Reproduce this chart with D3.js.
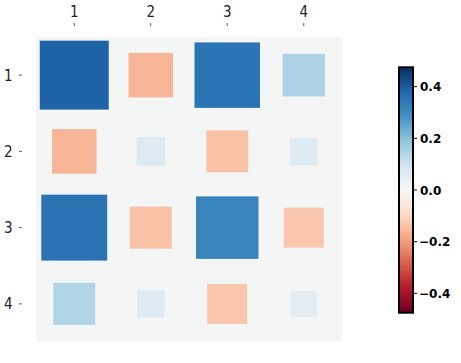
<!DOCTYPE html>
<html>
<head>
<meta charset="utf-8">
<script src="https://cdn.jsdelivr.net/npm/d3@7"></script>
<style>
  body { margin: 0; background: #fff; }
  .lbl { font-family: "Liberation Sans Narrow", "DejaVu Sans Condensed", "Liberation Sans", sans-serif; font-size: 15px; font-weight: 300; fill: #222; }
  .cb { font-family: "DejaVu Sans", sans-serif; font-size: 12px; font-weight: bold; fill: #000; }
</style>
</head>
<body>
<svg id="svg-container" width="461" height="363"></svg>
<script>
const rows = ['1', '2', '3', '4']
const cols = ['1', '2', '3', '4']
const values = [
  [0.386, -0.161, 0.348, 0.147],
  [-0.161, 0.066, -0.143, 0.061],
  [0.353, -0.143, 0.317, -0.130],
  [0.143, 0.061, -0.130, 0.055],
]
const vmax = 0.475
const cbTicks = [-0.4, -0.2, 0, 0.2, 0.4]
// matplotlib RdBu anchors
const rdbu = ['#67001f', '#b2182b', '#d6604d', '#f4a582', '#fddbc7', '#f7f7f7',
  '#d1e5f0', '#92c5de', '#4393c3', '#2166ac', '#053061']

const svg = d3.select('#svg-container')

const plot = { x0: 36, x1: 342, y0: 37, y1: 342 }
const x = d3.scaleBand().domain(cols).range([plot.x0, plot.x1])
const y = d3.scaleBand().domain(rows).range([plot.y0, plot.y1])
const size = d3.scaleSqrt().domain([0, vmax]).range([0, x.bandwidth()])
const color = d3.scaleLinear()
  .domain(d3.range(rdbu.length).map(i => -vmax + (2 * vmax * i) / (rdbu.length - 1)))
  .range(rdbu)

svg.append('rect')
  .attr('x', plot.x0)
  .attr('y', plot.y0)
  .attr('width', plot.x1 - plot.x0)
  .attr('height', plot.y1 - plot.y0)
  .attr('fill', '#f4f6f5')

const cells = []
rows.forEach((r, i) => cols.forEach((c, j) => cells.push({ r, c, v: values[i][j] })))

svg.selectAll('rect.cell')
  .data(cells)
  .enter()
  .append('rect')
  .attr('class', 'cell')
  .attr('x', d => x(d.c) + (x.bandwidth() - size(Math.abs(d.v))) / 2)
  .attr('y', d => y(d.r) + (y.bandwidth() - size(Math.abs(d.v))) / 2)
  .attr('width', d => size(Math.abs(d.v)))
  .attr('height', d => size(Math.abs(d.v)))
  .attr('fill', d => color(d.v))

// top axis
const topAxis = svg.append('g')
topAxis.selectAll('line')
  .data(cols)
  .enter()
  .append('line')
  .attr('x1', d => x(d) + x.bandwidth() / 2)
  .attr('x2', d => x(d) + x.bandwidth() / 2)
  .attr('y1', 23)
  .attr('y2', 26)
  .attr('stroke', '#333')
  .attr('stroke-width', 0.8)
topAxis.selectAll('text')
  .data(cols)
  .enter()
  .append('text')
  .attr('class', 'lbl')
  .attr('x', d => x(d) + x.bandwidth() / 2)
  .attr('y', 17)
  .attr('text-anchor', 'middle')
  .text(d => d)

// left axis
const leftAxis = svg.append('g')
leftAxis.selectAll('line')
  .data(rows)
  .enter()
  .append('line')
  .attr('x1', 19)
  .attr('x2', 22)
  .attr('y1', d => y(d) + y.bandwidth() / 2)
  .attr('y2', d => y(d) + y.bandwidth() / 2)
  .attr('stroke', '#333')
  .attr('stroke-width', 0.8)
leftAxis.selectAll('text')
  .data(rows)
  .enter()
  .append('text')
  .attr('class', 'lbl')
  .attr('x', 12.5)
  .attr('y', d => y(d) + y.bandwidth() / 2 + 5.5)
  .attr('text-anchor', 'end')
  .text(d => d)

// colorbar
const cb = { x: 399, w: 14, y0: 67.3, y1: 312.7 }
const cbScale = d3.scaleLinear().domain([-vmax, vmax]).range([cb.y1, cb.y0])
const grad = svg.append('defs').append('linearGradient')
  .attr('id', 'cbgrad')
  .attr('x1', 0).attr('y1', 1).attr('x2', 0).attr('y2', 0)
grad.selectAll('stop')
  .data(d3.range(0, 1.0001, 0.02))
  .enter()
  .append('stop')
  .attr('offset', d => d)
  .attr('stop-color', d => color(-vmax + 2 * vmax * d))
svg.append('rect')
  .attr('x', cb.x)
  .attr('y', cb.y0)
  .attr('width', cb.w)
  .attr('height', cb.y1 - cb.y0)
  .attr('fill', 'url(#cbgrad)')
  .attr('stroke', '#000')
  .attr('stroke-width', 2)

const cbAxis = svg.append('g')
cbAxis.selectAll('line')
  .data(cbTicks)
  .enter()
  .append('line')
  .attr('x1', cb.x + cb.w)
  .attr('x2', cb.x + cb.w + 4)
  .attr('y1', d => cbScale(d))
  .attr('y2', d => cbScale(d))
  .attr('stroke', '#000')
  .attr('stroke-width', 1)
cbAxis.selectAll('text')
  .data(cbTicks)
  .enter()
  .append('text')
  .attr('class', 'cb')
  .attr('x', d => (d < 0 ? cb.x + cb.w + 6 : cb.x + cb.w + 7))
  .attr('y', d => cbScale(d) + 4.5)
  .text(d => d3.format('.1f')(d).replace('-', '\u2212'))
</script>
</body>
</html>
